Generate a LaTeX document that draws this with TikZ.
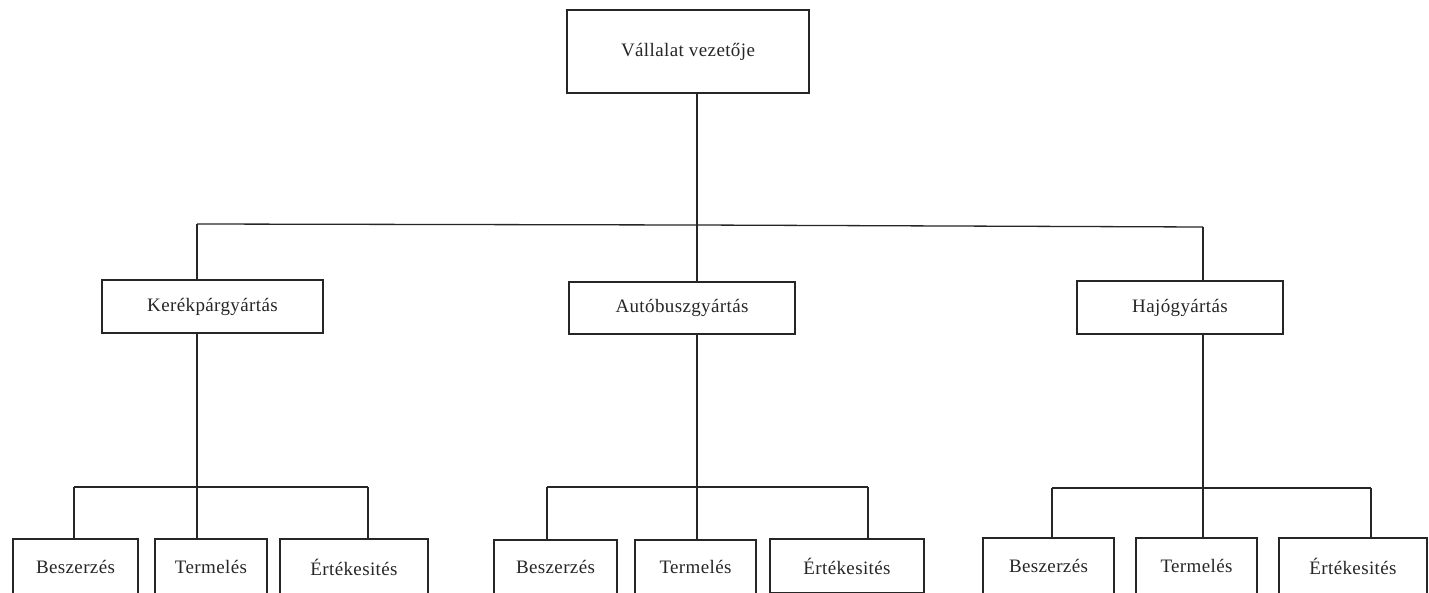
\documentclass[tikz,border=0pt]{standalone}
\usepackage{fontspec}
\setmainfont{Liberation Serif}[LetterSpace=2]
\begin{document}
\begin{tikzpicture}[x=1pt,y=-1pt,
  line width=1.3pt, draw=black!85,
  unit/.style={draw=black!85, line width=1.3pt, fill=white, inner sep=0pt,
    font=\fontsize{19}{21}\selectfont, text=black!85},
  wire/.style={draw=black!85, line width=1.3pt}]
\useasboundingbox (0,0) rectangle (1429,592);
\clip (0,0) rectangle (1429,592);
\fill[white] (0,0) rectangle (1429,592);

% company head
\node[unit, minimum width=242pt, minimum height=83pt] (head) at (688,51.5) {\raisebox{-2pt}{Vállalat vezetője}};

% divisions
\node[unit, minimum width=221pt, minimum height=53pt] (kerek) at (212.5,306.5) {Kerékpárgyártás};
\node[unit, minimum width=226pt, minimum height=52pt] (auto)  at (682,308)     {Autóbuszgyártás};
\node[unit, minimum width=206pt, minimum height=53pt] (hajo)  at (1180,307.5)  {Hajógyártás};

% departments (boxes run past the lower edge)
\node[unit, minimum width=125pt, minimum height=56pt] (b1) at (75.5,567)  {Beszerzés};
\node[unit, minimum width=112pt, minimum height=56pt] (t1) at (211,567)   {Termelés};
\node[unit, minimum width=148pt, minimum height=56pt] (e1) at (354,567)   {Értékesités};

\node[unit, minimum width=123pt, minimum height=54pt] (b2) at (555.5,567) {Beszerzés};
\node[unit, minimum width=121pt, minimum height=54pt] (t2) at (695.5,567) {Termelés};
\node[unit, minimum width=154pt, minimum height=54pt] (e2) at (847,566)   {Értékesités};

\node[unit, minimum width=131pt, minimum height=56pt] (b3) at (1048.5,566) {Beszerzés};
\node[unit, minimum width=121pt, minimum height=56pt] (t3) at (1196.5,566) {Termelés};
\node[unit, minimum width=148pt, minimum height=56pt] (e3) at (1353,566)   {Értékesités};

% top-level bus
\coordinate (j1) at (197,224);
\coordinate (j2) at (697,225);
\coordinate (j3) at (1203,227);
\draw[wire] (j1) -- (j2) -- (j3);
\draw[wire] (head.south -| j2) -- (j2);
\draw[wire] (j1) -- (kerek.north -| j1);
\draw[wire] (j2) -- (auto.north -| j2);
\draw[wire] (j3) -- (hajo.north -| j3);

% department buses
\coordinate (k1) at (74,487);  \coordinate (k2) at (197,487); \coordinate (k3) at (368,487);
\draw[wire] (kerek.south -| k2) -- (k2);
\draw[wire] (k1) -- (k3);
\draw[wire] (k1) -- (b1.north -| k1);
\draw[wire] (k2) -- (t1.north -| k2);
\draw[wire] (k3) -- (e1.north -| k3);

\coordinate (a1) at (547,487); \coordinate (a2) at (697,487); \coordinate (a3) at (868,487);
\draw[wire] (auto.south -| a2) -- (a2);
\draw[wire] (a1) -- (a3);
\draw[wire] (a1) -- (b2.north -| a1);
\draw[wire] (a2) -- (t2.north -| a2);
\draw[wire] (a3) -- (e2.north -| a3);

\coordinate (h1) at (1052,488); \coordinate (h2) at (1203,488); \coordinate (h3) at (1371,488);
\draw[wire] (hajo.south -| h2) -- (h2);
\draw[wire] (h1) -- (h3);
\draw[wire] (h1) -- (b3.north -| h1);
\draw[wire] (h2) -- (t3.north -| h2);
\draw[wire] (h3) -- (e3.north -| h3);
\end{tikzpicture}
\end{document}
